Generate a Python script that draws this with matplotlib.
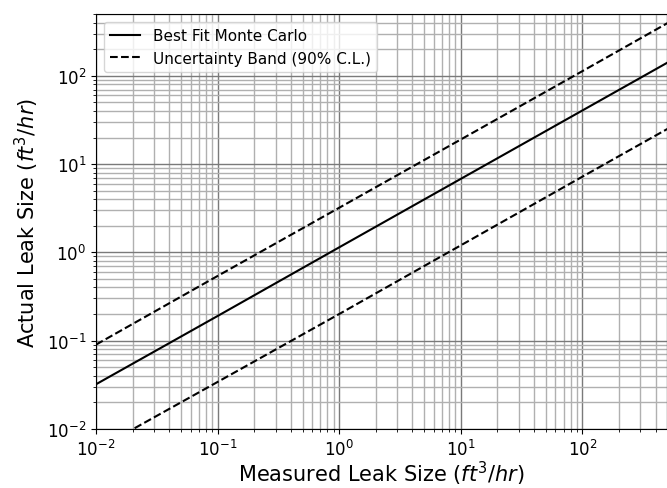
import numpy as np
import matplotlib
matplotlib.use('Agg')
import matplotlib.pyplot as plt

# Values (log-log, ft^3/hr)
measured = [0.01, 0.1, 1, 10, 100, 500]
best_fit = [0.032, 0.19, 1.14, 6.8, 40.5, 141]
upper_band = [0.09, 0.54, 3.2, 19, 113, 395]
lower_band = [0.0058, 0.034, 0.2, 1.2, 7.2, 25]

fig = plt.figure(figsize=(6.67, 4.89), dpi=100)
ax = fig.add_axes([0.144, 0.121, 0.8565, 0.848])

ax.loglog(measured, best_fit, color='black', lw=1.5, label='Best Fit Monte Carlo')
ax.loglog(measured, upper_band, color='black', lw=1.5, ls='--', label='Uncertainty Band (90% C.L.)')
ax.loglog(measured, lower_band, color='black', lw=1.5, ls='--')

ax.set_xlim(0.01, 500)
ax.set_ylim(0.01, 500)
ax.grid(which='major', color='#7a7a7a', lw=1.0)
ax.grid(which='minor', color='#b0b0b0', lw=1.0)
ax.set_axisbelow(True)

ax.tick_params(axis='both', which='major', labelsize=12)
ax.set_xlabel('Measured Leak Size ($ft^3/hr$)', fontsize=15, labelpad=0)
ax.set_ylabel('Actual Leak Size ($ft^3/hr$)', fontsize=15)
ax.legend(loc='upper left', fontsize=11)

fig.savefig('out.png', dpi=100)
